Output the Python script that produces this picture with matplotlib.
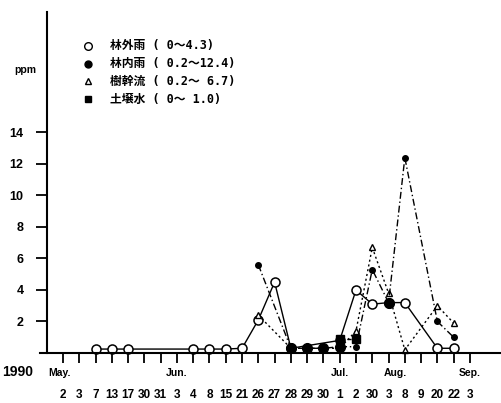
import numpy as np
import matplotlib
matplotlib.use("Agg")
import matplotlib.pyplot as plt
from matplotlib.lines import Line2D

nan = np.nan

# ---- data ----
day_labels = ["2", "3", "7", "13", "17", "30", "31", "3", "4", "8", "15", "21", "26",
              "27", "28", "29", "30", "1", "2", "30", "3", "8", "9", "20", "22", "3"]
month_labels = ["May.", "Jun.", "Jul.", "Aug.", "Sep."]
month_pos = [-0.2, 7.0, 17.0, 20.4, 25.0]

# 林外雨 (open rain)
open_rain = [nan, nan, 0.25, 0.25, 0.25, nan, nan, nan, 0.25, 0.25, 0.25, 0.3, 2.1,
             4.5, 0.3, nan, nan, 0.8, 4.0, 3.1, 3.2, 3.2, nan, 0.3, 0.3, nan]
# 林内雨 (throughfall)
throughfall = [nan, nan, nan, nan, nan, nan, nan, nan, nan, nan, nan, nan, 5.6,
               nan, 0.3, 0.3, 0.3, 0.4, 0.4, 5.3, 3.2, 12.4, nan, 2.0, 1.0, nan]
throughfall_big = [False] * 14 + [True, True, True, True, False, False, True, False, False, False, False, False]
# 樹幹流 (stemflow)
stemflow = [nan, nan, nan, nan, nan, nan, nan, nan, nan, nan, nan, nan, 2.4,
            nan, 0.3, nan, nan, 0.3, 1.4, 6.7, 3.8, 0.2, nan, 3.0, 1.9, nan]
# 土壌水 (soil water)
soil = [nan] * 17 + [0.9, 0.9] + [nan] * 7

legend_labels = ["林外雨 ( 0～4.3)", "林内雨 ( 0.2～12.4)",
                 "樹幹流 ( 0.2～ 6.7)", "土壌水 ( 0～ 1.0)"]

yticks = [2, 4, 6, 8, 10, 12, 14]

# ---- figure ----
W, H = 502, 403
fig = plt.figure(figsize=(W / 100, H / 100), dpi=100)
ax = fig.add_axes([47 / W, 50 / H, 455 / W, 341 / H])
ax.set_xlim(-0.983, 26.97)
ax.set_ylim(0, 21.65)

num_font = dict(family=["Liberation Sans", "DejaVu Sans"], weight="bold")
leg_font = ["DejaVu Sans Mono", "Noto Sans CJK JP"]

x = np.arange(len(day_labels))


def valid(vals):
    v = np.array(vals, dtype=float)
    m = ~np.isnan(v)
    return x[m], v[m]


# 林外雨: solid line, open circles
xo, yo = valid(open_rain)
ax.plot(xo, yo, color="black", lw=1.0, ls="-", marker="o", ms=6.5,
        mfc="white", mec="black", mew=1.1, zorder=3, clip_on=False)

# 樹幹流: dotted, open triangles
xs, ys = valid(stemflow)
ax.plot(xs, ys, color="black", lw=1.0, ls=(0, (1.5, 2.0)), zorder=4, clip_on=False)
ax.plot(xs, ys, ls="none", marker="^", ms=5, mfc="white", mec="black", mew=1.0,
        zorder=5, clip_on=False)

# 土壌水: dashed, filled squares
xq, yq = valid(soil)
ax.plot(xq, yq, color="black", lw=1.0, ls=(0, (3, 2)), marker="s", ms=5.5,
        mfc="black", mec="black", zorder=6, clip_on=False)

# 林内雨: dash-dot, filled circles (two sizes)
xt, yt = valid(throughfall)
big = np.array(throughfall_big)[~np.isnan(np.array(throughfall, dtype=float))]
ax.plot(xt, yt, color="black", lw=1.0, ls=(0, (5, 2, 1, 2)), zorder=6, clip_on=False)
ax.plot(xt[big], yt[big], ls="none", marker="o", ms=7, mfc="black", mec="black",
        zorder=7, clip_on=False)
ax.plot(xt[~big], yt[~big], ls="none", marker="o", ms=4, mfc="black", mec="black",
        zorder=7, clip_on=False)

# axes styling
for s in ["top", "right", "bottom"]:
    ax.spines[s].set_visible(False)
ax.spines["left"].set_linewidth(1.5)
fig.add_artist(Line2D([40 / W, 1.0], [50 / H, 50 / H], transform=fig.transFigure,
                      color="black", lw=1.5))

ax.set_xticks(x)
ax.set_xticklabels(day_labels, fontsize=8.5, **num_font)
ax.tick_params(axis="x", direction="out", length=7, width=1.3, pad=19)

ax.set_yticks(yticks)
ax.set_yticklabels([str(t) for t in yticks], fontsize=9, **num_font)
ax.tick_params(axis="y", direction="out", length=8, width=1.3, pad=9)

for lab, pos in zip(month_labels, month_pos):
    ax.annotate(lab, xy=(pos, 0), xycoords=("data", "axes fraction"),
                xytext=(0, -14.4), textcoords="offset points",
                ha="center", va="center", fontsize=7.5, annotation_clip=False,
                **num_font)

fig.text(2 / W, 1 - 372 / H, "1990", ha="left", va="center", fontsize=10, **num_font)
fig.text(25 / W, 1 - 70 / H, "ppm", ha="center", va="center", fontsize=7.5, **num_font)

# legend (manual)
leg_rows = [46, 64, 81, 99]
leg_styles = [
    dict(marker="o", ms=5.5, mfc="white", mec="black", mew=1.0),
    dict(marker="o", ms=5, mfc="black", mec="black"),
    dict(marker="^", ms=4.5, mfc="white", mec="black", mew=1.0),
    dict(marker="s", ms=4.5, mfc="black", mec="black"),
]
for row, lab, st in zip(leg_rows, legend_labels, leg_styles):
    fig.add_artist(Line2D([88 / W], [1 - row / H], transform=fig.transFigure,
                          ls="none", **st))
    fig.text(110 / W, 1 - row / H, lab, ha="left", va="center", fontsize=8.5,
             family=leg_font, weight="bold")

fig.savefig("out.png", dpi=100)
